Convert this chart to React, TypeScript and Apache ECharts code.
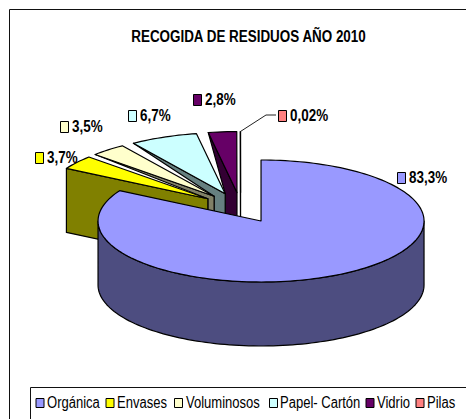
import React, { useEffect, useRef } from "react";
import * as echarts from "echarts";

const categories = ["Orgánica", "Envases", "Voluminosos", "Papel- Cartón", "Vidrio", "Pilas"];
const values = [83.3, 3.7, 3.5, 6.7, 2.8, 0.02];
const valueLabels = ["83,3%", "3,7%", "3,5%", "6,7%", "2,8%", "0,02%"];
const topColors = ["#9999FF", "#FFFF00", "#FFFFCC", "#CCFFFF", "#660066", "#FF8080"];
const wallColors = ["#4D4D80", "#808000", "#808066", "#668080", "#330033", "#804040"];
const titleText = "RECOGIDA DE RESIDUOS AÑO 2010";
const labelAnchors = [[397, 178], [35, 158], [60, 127], [128, 116], [193, 100], [278, 116]];
const legendMarkerX = [35.5, 105.5, 174, 269, 365.5, 415.5];
const legendTextX = [47, 117, 186, 280, 377, 427];

const FONT = '"Liberation Sans", Arial, sans-serif';
const CX = 240.6, CY = 207.8, RX = 163, RY = 61, DEPTH = 64, EXPLODE = 0.25;
const NARROW = 0.84;
const LEGEND_NARROW = 0.815;
const total = values.reduce((a, b) => a + b, 0);

const sliceGeom = values.map((v, i) => {
  const before = values.slice(0, i).reduce((a, b) => a + b, 0);
  const a0 = (before / total) * Math.PI * 2;
  const a1 = ((before + v) / total) * Math.PI * 2;
  const mid = (a0 + a1) / 2;
  const ax = CX + EXPLODE * RX * Math.sin(mid);
  const ay = CY - EXPLODE * RY * Math.cos(mid);
  return { a0, a1, ax, ay };
});
const rim = (g: any, t: number, dy = 0) => [g.ax + RX * Math.sin(t), g.ay - RY * Math.cos(t) + dy];
const arcPoints = (g: any, from: number, to: number, dy = 0) => {
  const n = Math.max(2, Math.ceil(Math.abs(to - from) / 0.03));
  const pts = [];
  for (let k = 0; k <= n; k++) pts.push(rim(g, from + ((to - from) * k) / n, dy));
  return pts;
};

function renderSlice(i: number) {
  const g = sliceGeom[i];
  const children: any[] = [];
  const edge = { stroke: "#000", lineWidth: 1.2, lineJoin: "round" };
  if (i === 0) {
    const from = Math.PI / 2, to = (Math.PI * 3) / 2;
    const pts = [...arcPoints(g, from, to), ...arcPoints(g, to, from, DEPTH)];
    children.push({ type: "polygon", shape: { points: pts }, style: { fill: wallColors[i], ...edge } });
  } else {
    const outer = rim(g, g.a0);
    const cut = i > 1 && i < values.length - 1;
    const prev = sliceGeom[i - 1];
    const pts = cut
      ? [outer, [prev.ax, prev.ay], [prev.ax, prev.ay + DEPTH], [g.ax, g.ay + DEPTH], [g.ax, g.ay]]
      : [outer, [outer[0], outer[1] + DEPTH], [g.ax, g.ay + DEPTH], [g.ax, g.ay]];
    children.push({ type: "polygon", shape: { points: pts }, style: { fill: wallColors[i], ...edge } });
  }
  const top = [[g.ax, g.ay], ...arcPoints(g, g.a0, g.a1)];
  children.push({ type: "polygon", shape: { points: top }, style: { fill: topColors[i], ...edge } });
  return { type: "group", children };
}

const narrowText = (x: number, y: number, text: string, font: string, align = "left", scale = NARROW) => ({
  type: "text",
  x,
  y,
  scaleX: scale,
  style: { x: 0, y: 0, text, fill: "#000", font, textAlign: align, textVerticalAlign: "middle" },
});

function labelElements(i: number) {
  const [x, y] = labelAnchors[i];
  const out: any[] = [
    { type: "rect", shape: { x: x + 0.5, y: y - 5.5, width: 8, height: 11 }, style: { fill: topColors[i], stroke: "#000", lineWidth: 1 } },
    narrowText(x + 12, y, valueLabels[i], `bold 16px ${FONT}`),
  ];
  if (i === values.length - 1) {
    const g = sliceGeom[i];
    const o = rim(g, g.a0);
    out.push({
      type: "polyline",
      shape: { points: [o, [x - 12, y - 1], [x - 2, y - 1]] },
      style: { stroke: "#222", lineWidth: 1, fill: "none" },
    });
  }
  return out;
}

const drawOrder = [5, 4, 3, 2, 1, 0];

export default function App() {
  const ref = useRef<HTMLDivElement>(null);
  useEffect(() => {
    const chart = echarts.init(ref.current!, undefined, { renderer: "svg" });
    chart.setOption({
      animation: false,
      backgroundColor: "#fff",
      graphic: [
        { type: "rect", z: -1, shape: { x: 9.5, y: 9.5, width: 480, height: 430 }, style: { fill: "none", stroke: "#111", lineWidth: 1 } },
        { type: "rect", z: -1, shape: { x: 30.5, y: 387.5, width: 460, height: 60 }, style: { fill: "none", stroke: "#111", lineWidth: 1 } },
        { ...narrowText(248.5, 35.5, titleText, `bold 17px ${FONT}`, "center", 0.79) },
        ...categories.flatMap((name, i) => [
          {
            type: "rect",
            shape: { x: legendMarkerX[i] + 0.5, y: 398.5, width: 8, height: 9 },
            style: { fill: topColors[i], stroke: "#000", lineWidth: 1 },
          },
          narrowText(legendTextX[i], 403, name, `16px ${FONT}`, "left", LEGEND_NARROW),
        ]),
      ],
      series: drawOrder.map((i) => ({
        type: "custom",
        name: categories[i],
        coordinateSystem: "none",
        data: [values[i]],
        renderItem: () => ({
          type: "group",
          children: [renderSlice(i), ...labelElements(i)],
        }),
      })),
    });
    return () => chart.dispose();
  }, []);
  return <div ref={ref} style={{ position: "absolute", left: 0, top: 0, width: 466, height: 419, overflow: "hidden" }} />;
}
